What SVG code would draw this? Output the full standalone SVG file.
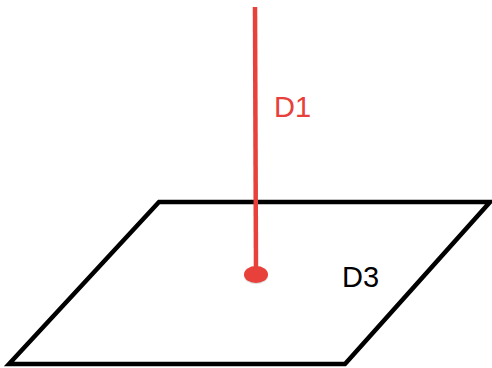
<svg xmlns="http://www.w3.org/2000/svg" width="492" height="368" viewBox="0 0 492 368">
<style>
.lbl{font-family:"Liberation Sans",Arial,sans-serif;font-size:29px}
.red{fill:#E8403A}
</style>
<rect width="492" height="368" fill="#fff"/>
<g id="plane">
<polygon points="159,202 490,202 345,364 9,364" fill="none" stroke="#000" stroke-width="4.5" stroke-linejoin="miter"/>
<text class="lbl" x="342" y="287" fill="#000">D3</text>
</g>
<g id="connectors">
<line x1="255" y1="7" x2="256" y2="273" stroke="#E8403A" stroke-width="4.5"/>
</g>
<g id="point">
<ellipse cx="256" cy="276" rx="12" ry="8" fill="#aaa" opacity="0.4"/>
<ellipse cx="256" cy="274.5" rx="12" ry="8.5" class="red"/>
</g>
<g id="d1">
<text class="lbl red" x="274" y="117">D1</text>
</g>
</svg>
